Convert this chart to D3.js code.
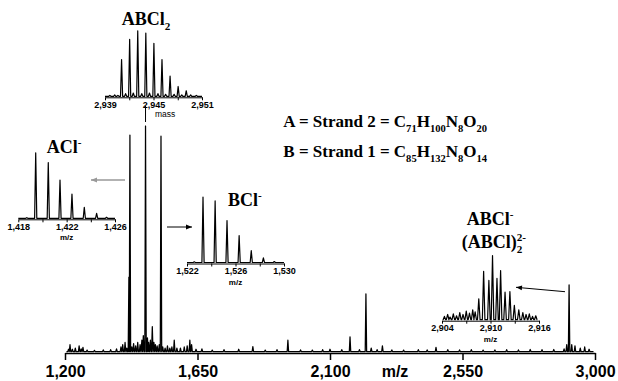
<!DOCTYPE html>
<html><head><meta charset="utf-8">
<script src="https://cdn.jsdelivr.net/npm/d3@7"></script>
<style>body{margin:0;background:#fff}svg{display:block}</style>
</head><body>
<script>
// ---------- DATA ----------
const mainTicks = [1200, 1650, 2100, 2550, 3000];
const mainMz = [1212,1217,1225,1235,1248,1255,1261,1275,1300,1330,1355,1375,1390,1396,1404,1410,1417,1420.5,1427,1433,1440,1447,1455,1461,1466,1473.5,1480,1484,1490,1496.5,1502,1507,1513,1520,1526,1532,1540,1548,1556,1563,1571,1580,1592,1605,1615,1624,1630,1645,1665,1700,1740,1790,1838,1880,1920,1957,2000,2040,2075,2100,2140,2168,2200,2222,2240,2260,2278,2310,2350,2400,2430,2460,2500,2540,2580,2620,2660,2700,2740,2780,2820,2860,2895,2904,2912,2921,2932,2950,2965,2980];
const mainInt = [1,3,1,1.5,2.5,1.2,1.8,0.6,0.5,0.7,0.8,1.2,2,3,4,1.5,33,96,2,3.5,2.5,4,3,5,7,100,6,4,5,11,4,3,2.5,3,95.5,2,1.5,2.5,1.5,2,5,1.5,1.5,2,2.5,5,3,1,1.2,0.6,0.8,1,2.2,0.6,0.8,5,0.7,0.6,0.8,1,0.8,6.5,0.8,25.5,1.5,0.8,2.5,0.7,0.6,0.8,0.7,1.8,0.8,0.7,0.8,0.6,0.7,0.8,0.7,0.9,0.8,0.9,1.2,3,29.5,3,2.5,1.5,2,1];

const abcl2Ticks = [2939, 2942, 2945, 2948, 2951];
const abcl2Labels = [2939, 2945, 2951];
const abcl2Mass = [2939.6,2940.2,2940.6,2941.05,2941.55,2942.05,2942.5,2943.05,2943.55,2944.05,2944.5,2945.05,2945.55,2946.05,2946.5,2947.05,2947.55,2948.05,2948.5,2949.05,2949.6,2950.3];
const abcl2Int  = [1.5,2,1.5,56,4,87,5,100,4,96.5,5,81,4,56,3,31,3,15,2,8.5,2,1.5];

const aclTicks = [1418, 1420, 1422, 1424, 1426];
const aclLabels = [1418, 1422, 1426];
const aclMz  = [1418.7,1419.44,1420.48,1421.45,1422.44,1423.46,1424.48,1425.3];
const aclInt = [1,100,85,58.5,37,16.7,7.6,1.5];

const bclTicks = [1522, 1524, 1526, 1528, 1530];
const bclLabels = [1522, 1526, 1530];
const bclMz  = [1522.6,1523.32,1524.32,1525.3,1526.3,1527.3,1528.3,1529.2];
const bclInt = [1,100,94,64,41,18,7,1.5];

const abclTicks = [2904, 2907, 2910, 2913, 2916];
const abclLabels = [2904, 2910, 2916];
const abclMz  = [2904.3,2904.7,2905.0,2905.4,2905.8,2906.2,2906.6,2907.0,2907.4,2907.8,2908.1,2908.55,2909.15,2909.8,2910.25,2910.8,2911.25,2911.8,2912.4,2912.95,2913.5,2914.0,2914.4,2914.8,2915.2,2915.6];
const abclInt = [5,8,4,9,6,11,8,13,10,15,12,32,74,60,98,63,75,42,43,22,15,11,8,9,5,6];

// ---------- DRAW ----------
const W = 618, H = 381;
const svg = d3.select("body").append("svg").attr("width", W).attr("height", H);
const sans = "'Liberation Sans', Arial, sans-serif";
const serif = "'Liberation Serif', 'Times New Roman', serif";

const defs = svg.append("defs");
function marker(id, color){
  defs.append("marker").attr("id", id).attr("viewBox","0 0 10 10")
    .attr("refX",10).attr("refY",5).attr("markerWidth",7).attr("markerHeight",6)
    .attr("markerUnits","userSpaceOnUse").attr("orient","auto")
    .append("path").attr("d","M0,1L10,5L0,9z").attr("fill",color);
}
marker("arrBlack","#000"); marker("arrGray","#999");

function peakPoints(mz, inten, lo, hi, hw){
  const pts = [[lo, 0]];
  mz.forEach((m, i) => { pts.push([m - hw, 0], [m, inten[i]], [m + hw, 0]); });
  pts.push([hi, 0]);
  return pts;
}

// main spectrum
const x = d3.scaleLinear().domain([1200, 3000]).range([65, 595]);
const y = d3.scaleLinear().domain([0, 100]).range([351.5, 126]);
const mainLine = d3.line().x(d => x(d[0])).y(d => y(d[1]));
svg.append("path").attr("d", mainLine(peakPoints(mainMz, mainInt, 1205, 2995, 2.4)))
  .attr("fill","none").attr("stroke","#000").attr("stroke-width",1.25).attr("stroke-linejoin","round");

const ax = svg.append("g").attr("transform","translate(0,353)")
  .call(d3.axisBottom(x).tickValues(mainTicks).tickSize(7).tickSizeOuter(0).tickFormat(d3.format(",")));
ax.select(".domain").attr("stroke","#000").attr("stroke-width",1.5);
ax.selectAll(".tick line").attr("stroke","#000").attr("stroke-width",1.5);
ax.selectAll(".tick text").attr("y",13).attr("font-family",sans).attr("font-size",16).attr("font-weight","bold").attr("fill","#000");
svg.append("text").attr("x",395).attr("y",377).attr("text-anchor","middle")
  .attr("font-family",sans).attr("font-size",16).attr("font-weight","bold").text("m/z");

// insets
function inset(o){
  const sx = d3.scaleLinear().domain(o.domain).range(o.range);
  const sy = d3.scaleLinear().domain([0,100]).range([o.axisY - 1, o.axisY - 66.5]);
  const line = d3.line().x(d => sx(d[0])).y(d => sy(d[1]));
  svg.append("path").attr("d", line(peakPoints(o.mz, o.inten, o.domain[0] + o.pad, o.domain[1] - o.pad, o.hw)))
    .attr("fill","none").attr("stroke","#000").attr("stroke-width",1.2).attr("stroke-linejoin","round");
  const fmt = d3.format(",");
  const g = svg.append("g").attr("transform", `translate(0,${o.axisY})`)
    .call(d3.axisBottom(sx).tickValues(o.ticks).tickSize(3).tickSizeOuter(0)
      .tickFormat(d => o.labels.includes(d) ? fmt(d) : ""));
  g.select(".domain").attr("stroke","#000").attr("stroke-width",1);
  g.selectAll(".tick line").attr("stroke","#000");
  g.selectAll(".tick text").attr("y",4).attr("font-family",sans).attr("font-size",9).attr("font-weight","bold").attr("fill","#000");
  if (o.unit) {
    svg.append("text").attr("x", (o.range[0] + o.range[1]) / 2).attr("y", o.axisY + 21)
      .attr("text-anchor","middle").attr("font-family",sans).attr("font-size",8).attr("font-weight","bold").text(o.unit);
  }
}
inset({mz: abcl2Mass, inten: abcl2Int, domain:[2939,2951], range:[105,202], axisY:97.3, ticks: abcl2Ticks, labels: abcl2Labels, hw:0.13, pad:0, unit:null});
inset({mz: aclMz, inten: aclInt, domain:[1418,1426], range:[18.3,115], axisY:219.3, ticks: aclTicks, labels: aclLabels, hw:0.09, pad:0, unit:"m/z"});
inset({mz: bclMz, inten: bclInt, domain:[1522,1530], range:[187,284], axisY:263.5, ticks: bclTicks, labels: bclLabels, hw:0.09, pad:0, unit:"m/z"});
inset({mz: abclMz, inten: abclInt, domain:[2904,2916], range:[442,539], axisY:320.7, ticks: abclTicks, labels: abclLabels, hw:0.16, pad:0.2, unit:"m/z"});

// "mass" label and connector for ABCl2
svg.append("line").attr("x1", x(1473.5)).attr("x2", x(1473.5)).attr("y1",106).attr("y2",122)
  .attr("stroke","#000").attr("stroke-width",1);
svg.append("text").attr("x",155).attr("y",117).attr("font-family",sans).attr("font-size",8.5).text("mass");

// arrows
svg.append("line").attr("x1",125).attr("y1",180).attr("x2",91).attr("y2",180)
  .attr("stroke","#999").attr("stroke-width",1.3).attr("marker-end","url(#arrGray)");
svg.append("line").attr("x1",167).attr("y1",227).attr("x2",192).attr("y2",227)
  .attr("stroke","#000").attr("stroke-width",1).attr("marker-end","url(#arrBlack)");
svg.append("line").attr("x1",565).attr("y1",291.7).attr("x2",516).attr("y2",287.3)
  .attr("stroke","#000").attr("stroke-width",1).attr("marker-end","url(#arrBlack)");

// rich text helper
function rich(xp, yp, parts, size, anchor){
  const t = svg.append("text").attr("x", xp).attr("y", yp).attr("font-family", serif)
    .attr("font-weight","bold").attr("font-size", size).attr("text-anchor", anchor || "start");
  let cur = 0;
  parts.forEach(([s, k]) => {
    const target = k === "sub" ? size * 0.28 : k === "sup" ? -size * 0.38 : 0;
    const ts = t.append("tspan").attr("dy", target - cur).text(s);
    if (k !== "n") ts.attr("font-size", size * 0.62);
    cur = target;
  });
  return t;
}
rich(146, 25, [["ABCl","n"],["2","sub"]], 18, "middle");
rich(46.7, 153, [["ACl","n"],["-","sup"]], 18);
rich(228, 206, [["BCl","n"],["-","sup"]], 18);
rich(466.7, 225, [["ABCl","n"],["-","sup"]], 18);
const t5 = rich(461.7, 248, [["(ABCl)","n"]], 18);
const w5 = t5.node().getComputedTextLength();
rich(461.7 + w5, 248, [["2","sub"]], 18);
rich(461.7 + w5, 248, [["2-","sup"]], 18);

rich(283.3, 127, [["A = Strand 2 = C","n"],["71","sub"],["H","n"],["100","sub"],["N","n"],["8","sub"],["O","n"],["20","sub"]], 17);
rich(283.3, 157, [["B = Strand 1 = C","n"],["85","sub"],["H","n"],["132","sub"],["N","n"],["8","sub"],["O","n"],["14","sub"]], 17);
</script>
</body></html>
